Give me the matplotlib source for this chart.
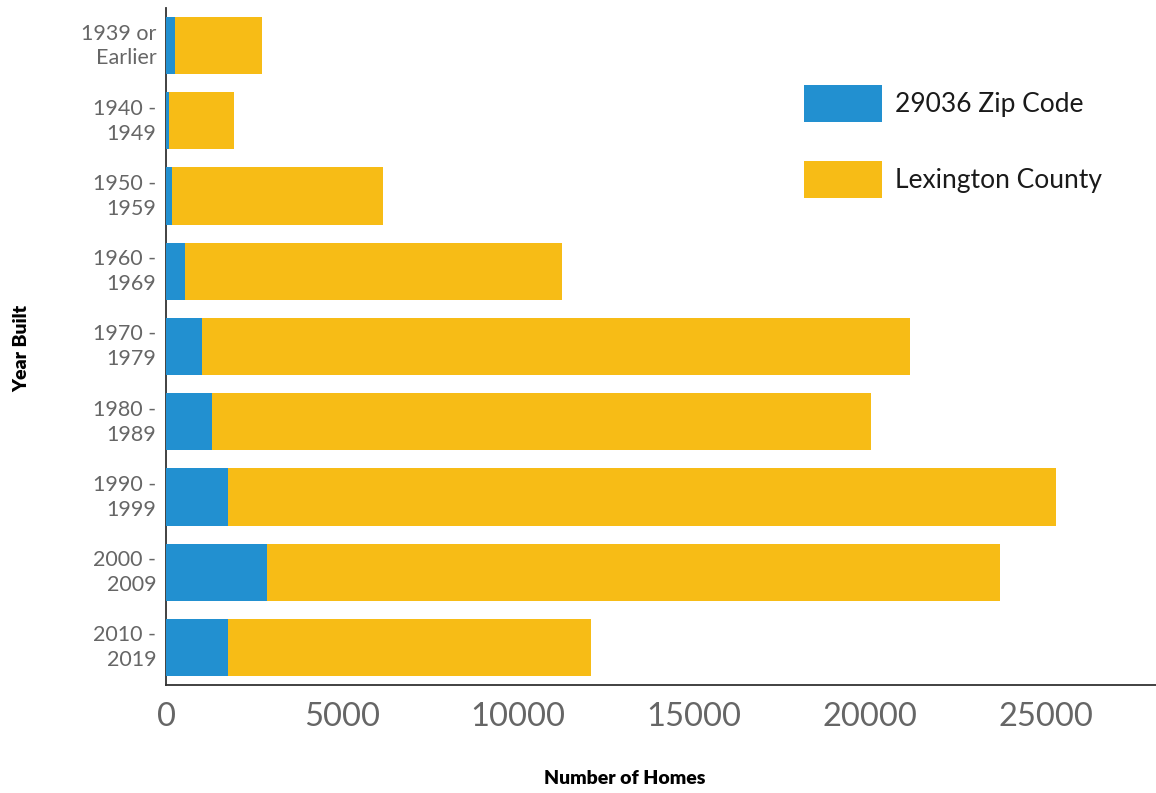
import matplotlib
matplotlib.use("Agg")
import matplotlib.pyplot as plt
from matplotlib.patches import Patch
from matplotlib.transforms import ScaledTranslation

categories = ["1939 or\nEarlier", "1940 -\n1949", "1950 -\n1959", "1960 -\n1969",
              "1970 -\n1979", "1980 -\n1989", "1990 -\n1999", "2000 -\n2009", "2010 -\n2019"]
zip_values = [256, 85, 170, 540, 1023, 1307, 1761, 2869, 1761]
county_values = [2727, 1932, 6165, 11250, 21136, 20028, 25284, 23693, 12074]
x_ticks = [0, 5000, 10000, 15000, 20000, 25000]

BLUE = "#2290d0"
YELLOW = "#f7bc16"

plt.rcParams['font.family'] = ['Lato', 'DejaVu Sans']

fig = plt.figure(figsize=(11.56, 7.93), dpi=100)
ax = fig.add_axes([166/1156, 1 - 685/793, (1156-166)/1156, (685-8)/793])

y = list(range(len(categories)))
ax.barh(y, county_values, height=0.76, color=YELLOW, zorder=2)
ax.barh(y, zip_values, height=0.76, color=BLUE, zorder=3)

ax.set_ylim(len(categories) - 0.5, -0.5)
ax.set_xlim(0, 28125)
ax.set_yticks(y)
ax.set_yticklabels(categories, fontsize=15.5, color="#666666", ha="right",
                   multialignment="right", linespacing=1.3)
ax.set_xticks(x_ticks)
ax.set_xticklabels([str(t) for t in x_ticks], fontsize=23.5, color="#666666")
ax.tick_params(axis="both", length=0)
ax.tick_params(axis="y", pad=7)
ax.tick_params(axis="x", pad=12)

shift = ScaledTranslation(0, 4/100, fig.dpi_scale_trans)
for lab in ax.get_yticklabels():
    lab.set_transform(lab.get_transform() + shift)

for s in ["top", "right"]:
    ax.spines[s].set_visible(False)
for s in ["left", "bottom"]:
    ax.spines[s].set_color("#333333")
    ax.spines[s].set_linewidth(1.3)

fig.text(625/1156, 1 - 779/793, "Number of Homes", fontsize=14, fontweight="heavy",
         ha="center", va="center", color="black")
fig.text(22/1156, 1 - 348/793, "Year Built", fontsize=14, fontweight="heavy",
         ha="center", va="center", rotation=90, color="black")

handles = [Patch(facecolor=BLUE, label="29036 Zip Code"),
           Patch(facecolor=YELLOW, label="Lexington County")]
leg = ax.legend(handles=handles, loc="upper left", bbox_to_anchor=(0.6444, 0.886),
                frameon=False, fontsize=19, handlelength=2.95, handleheight=1.75,
                labelspacing=1.5, handletextpad=0.5, borderpad=0, borderaxespad=0)
for t in leg.get_texts():
    t.set_color("#1a1a1a")

fig.savefig("out.png", dpi=100)
